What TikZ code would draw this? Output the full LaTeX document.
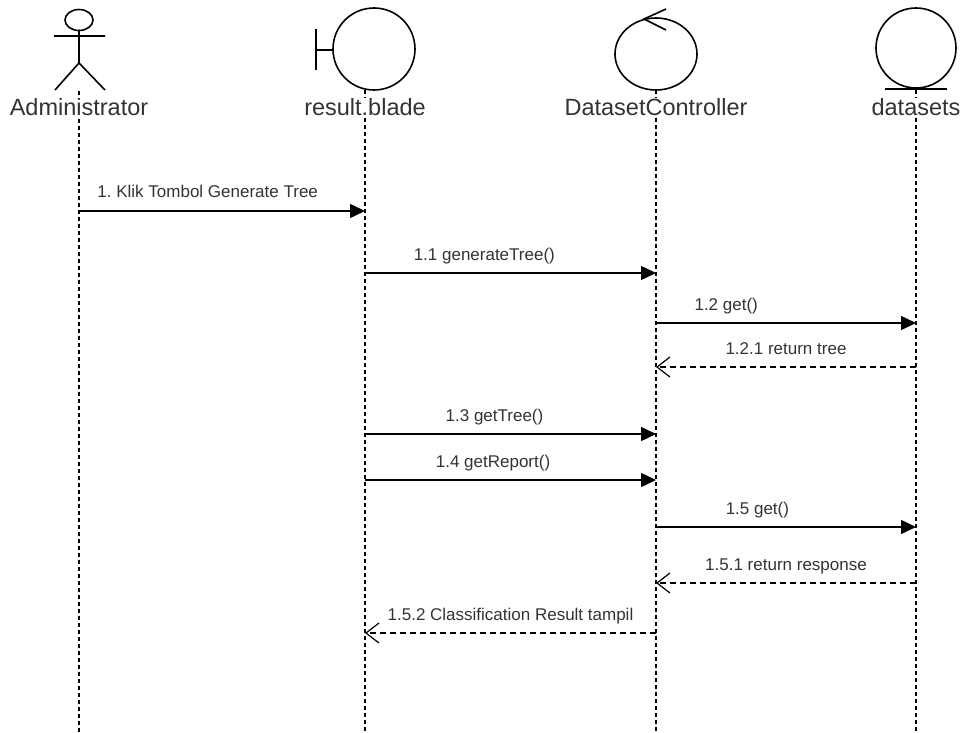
\documentclass[tikz,border=0pt]{standalone}
\usepackage{fontspec}
\setmainfont{Liberation Sans}
\usetikzlibrary{arrows.meta, positioning}
\frenchspacing

\begin{document}
\begin{tikzpicture}[x=1pt,y=-1pt,line width=1.6pt,
        lifeline/.style={dash pattern=on 4pt off 3pt, line width=1.2pt},
        lifename/.style={fill=white, inner sep=1pt, anchor=base, text=black!80, font=\fontsize{23.5}{26}\selectfont},
        call/.style={-{Triangle[length=15pt,width=14pt]}, line width=1.5pt},
        reply/.style={-{Straight Barb[length=13pt,width=20pt]}, dash pattern=on 6pt off 4pt, line width=1.2pt},
        msg/.style={anchor=base, yshift=13pt, text=black!80, font=\fontsize{17}{20}\selectfont}]
    \useasboundingbox (0,0) rectangle (962,733);

    % heads of the lifelines
    \coordinate (adm)   at (79,91);
    \coordinate (blade) at (365,90);
    \coordinate (ctrl)  at (656,90);
    \coordinate (data)  at (916,90);

    \draw[lifeline] (adm)   -- (adm |- 0,733);
    \draw[lifeline] (blade) -- (blade |- 0,733);
    \draw[lifeline] (ctrl)  -- (ctrl |- 0,733);
    \draw[lifeline] (data)  -- (data |- 0,733);

    % actor
    \draw (79,20) ellipse [x radius=14, y radius=10.5];
    \draw (79,30) -- (79,63) (54,36) -- (105,36)
        (55,90) -- (79,63) -- (105,90);
    % boundary
    \draw (374,49) circle [radius=41];
    \draw (316,29) -- (316,70) (316,50) -- (333,50);
    % control
    \draw (656,54) ellipse [x radius=41, y radius=36];
    \draw (666,9) -- (644,19) -- (666,30);
    % entity
    \draw (916,48) circle [radius=40];
    \draw (885,89) -- (947,89);

    \node[lifename] (admname)   at (79,116)  {Administrator};
    \node[lifename] (bladename) at (365,116) {result.blade};
    \node[lifename] (ctrlname)  at (656,116) {DatasetController};
    \node[lifename] (dataname)  at (916,116) {datasets};

    \path (adm |- 0,211) edge[call] node[msg, pos=.45] {1. Klik Tombol Generate Tree} (blade |- 0,211)
        (blade |- 0,273) edge[call] node[msg, pos=.41] {1.1 generateTree()} (ctrl |- 0,273)
        (ctrl |- 0,323) edge[call] node[msg, pos=.27] {1.2 get()} (data |- 0,323)
        (data |- 0,367) edge[reply] node[msg] {1.2.1 return tree} (ctrl |- 0,367)
        (blade |- 0,434) edge[call] node[msg, pos=.445] {1.3 getTree()} (ctrl |- 0,434)
        (blade |- 0,480) edge[call] node[msg, pos=.44] {1.4 getReport()} (ctrl |- 0,480)
        (ctrl |- 0,527) edge[call] node[msg, pos=.39] {1.5 get()} (data |- 0,527)
        (data |- 0,583) edge[reply] node[msg] {1.5.1 return response} (ctrl |- 0,583)
        (ctrl |- 0,633) edge[reply] node[msg] {1.5.2 Classification Result tampil} (blade |- 0,633);
\end{tikzpicture}
\end{document}
